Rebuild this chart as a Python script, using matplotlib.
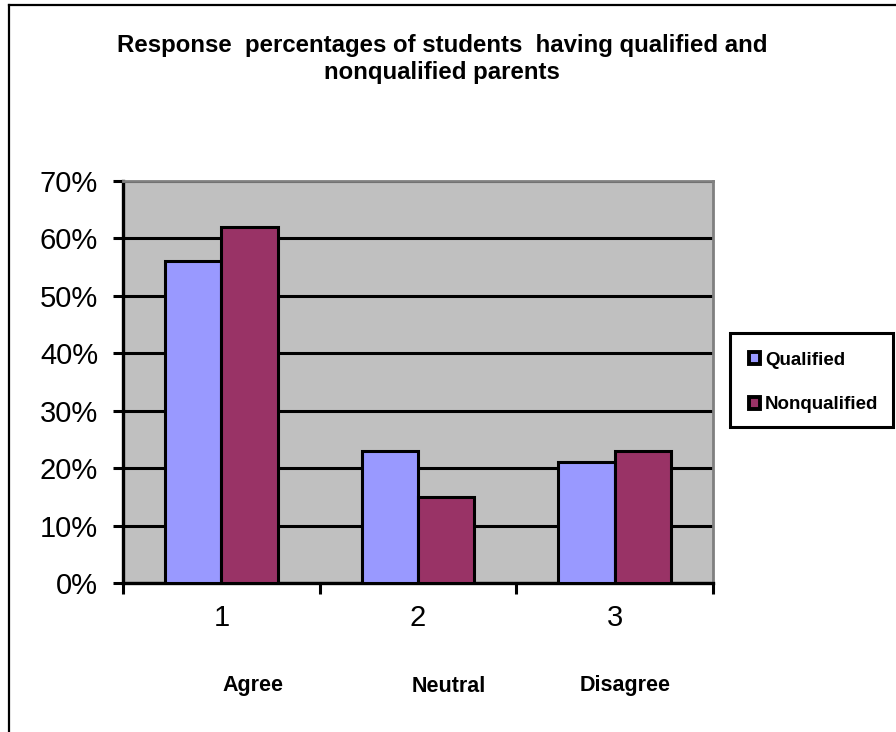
import matplotlib
matplotlib.use("Agg")
import matplotlib.pyplot as plt
from matplotlib.patches import Patch, Rectangle
from matplotlib.lines import Line2D
from matplotlib.ticker import FuncFormatter
import numpy as np

plt.rcParams['font.family'] = ['Liberation Sans', 'DejaVu Sans']

categories = ["1", "2", "3"]
category_names = ["Agree", "Neutral", "Disagree"]
series_names = ["Qualified", "Nonqualified"]
qualified = [56, 23, 21]
nonqualified = [62, 15, 23]
colors = ["#9999FF", "#993366"]
title = "Response  percentages of students  having qualified and\nnonqualified parents"

W, H = 896, 732
fig = plt.figure(figsize=(W / 100, H / 100), dpi=100)

def fx(px):
    return px / W

def fy(py):
    return 1 - py / H

# outer frame (left & top visible)
fig.add_artist(Line2D([fx(9), fx(9)], [fy(5), fy(732)], color="black", lw=1.6))
fig.add_artist(Line2D([fx(9), fx(896)], [fy(5), fy(5)], color="black", lw=1.6))

L, R, T, B = 123, 713, 181, 583
ax = fig.add_axes([fx(L), fy(B), fx(R - L), (B - T) / H])
ax.set_facecolor("#C0C0C0")

x = np.arange(len(categories))
bw = 1 / 3.5
for i, (vals, c, name) in enumerate(zip([qualified, nonqualified], colors, series_names)):
    ax.bar(x + (i - 0.5) * bw, vals, width=bw, color=c, edgecolor="black",
           linewidth=2.2, zorder=3, label=name)

ax.set_xlim(-0.5, len(categories) - 0.5)
ax.set_ylim(0, 70)
ax.set_yticks(np.arange(0, 71, 10))
ax.yaxis.set_major_formatter(FuncFormatter(lambda v, p: f"{int(v)}%"))
ax.yaxis.grid(True, color="black", linewidth=2.2, zorder=1)
ax.set_axisbelow(True)

ax.set_xticks(np.arange(-0.5, len(categories), 1.0))
ax.set_xticklabels([])
ax.set_xticks(x, minor=True)
ax.set_xticklabels(categories, minor=True)
ax.tick_params(axis="x", which="minor", length=0, labelsize=21, pad=15)
ax.tick_params(axis="x", which="major", direction="out", length=8, width=2.2)
ax.tick_params(axis="y", direction="out", length=7, width=2.2, labelsize=21, pad=11)

for s in ["left", "bottom"]:
    ax.spines[s].set_color("black")
    ax.spines[s].set_linewidth(2.4)
for s in ["top", "right"]:
    ax.spines[s].set_color("#808080")
    ax.spines[s].set_linewidth(2.0)

# title
fig.text(fx(442), fy(59), title, ha="center", va="center", fontsize=17.3,
         fontweight="bold", linespacing=1.25)

# category names below
name_px = [253, 449, 625]
for n, px in zip(category_names, name_px):
    fig.text(fx(px), fy(686), n, ha="center", va="center", fontsize=15.5,
             fontweight="bold")

# legend box
fig.add_artist(Rectangle((fx(730), fy(427)), fx(893 - 730), (427 - 333) / H,
                         transform=fig.transFigure, facecolor="white",
                         edgecolor="black", lw=2.2, zorder=5))
handles = [Patch(facecolor=c, edgecolor="black", linewidth=2.8) for c in colors]
leg = fig.legend(handles, series_names, loc="upper left",
                 bbox_to_anchor=(fx(749), fy(352)), frameon=False,
                 handlelength=0.6, handleheight=0.6, handletextpad=0.25,
                 labelspacing=1.45, borderaxespad=0, borderpad=0,
                 prop={"weight": "bold", "size": 13.5})
leg.set_zorder(6)

fig.savefig("out.png", dpi=100, facecolor="white")
